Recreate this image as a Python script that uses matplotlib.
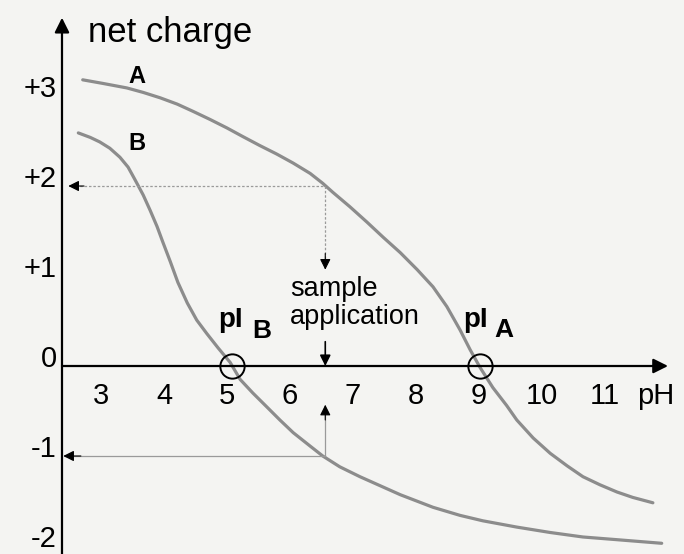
import matplotlib.pyplot as plt

# curve A (net charge vs pH)
ph_a = [2.71, 3.03, 3.41, 3.67, 3.94, 4.21, 4.46, 4.73, 5.00, 5.25,
        5.52, 5.79, 6.05, 6.32, 6.52, 6.68, 6.95, 7.22, 7.48, 7.75,
        8.02, 8.27, 8.49, 8.70, 8.86, 9.02, 9.22, 9.44, 9.60, 9.86,
        10.13, 10.40, 10.65, 10.92, 11.19, 11.44, 11.76]
charge_a = [3.18, 3.14, 3.09, 3.04, 2.98, 2.91, 2.83, 2.74, 2.645, 2.55,
            2.45, 2.355, 2.255, 2.14, 2.03, 1.93, 1.77, 1.60, 1.43, 1.26,
            1.07, 0.88, 0.66, 0.40, 0.18, -0.02, -0.24, -0.44, -0.60, -0.80,
            -0.97, -1.11, -1.23, -1.32, -1.40, -1.46, -1.52]

# curve B
ph_b = [2.64, 2.83, 2.98, 3.14, 3.30, 3.43, 3.54, 3.67, 3.78, 3.89,
        3.98, 4.10, 4.22, 4.37, 4.52, 4.68, 4.86, 5.05, 5.21, 5.41,
        5.64, 5.84, 6.05, 6.32, 6.52, 6.79, 7.11, 7.43, 7.75, 8.27,
        8.70, 9.06, 9.60, 10.13, 10.65, 11.19, 11.90]
charge_b = [2.59, 2.54, 2.49, 2.42, 2.32, 2.21, 2.07, 1.90, 1.73, 1.55,
            1.38, 1.16, 0.93, 0.70, 0.51, 0.36, 0.20, 0.04, -0.15, -0.30,
            -0.46, -0.60, -0.74, -0.89, -1.00, -1.12, -1.23, -1.33, -1.43, -1.57,
            -1.66, -1.72, -1.79, -1.85, -1.90, -1.93, -1.97]

pi_a = 9.02
pi_b = 5.08
sample_ph = 6.56
sample_charge_a = 2
sample_charge_b = -1

x_ticks = [3, 4, 5, 6, 7, 8, 9, 10, 11]
y_ticks = [3, 2, 1, 0, -1, -2]
y_tick_labels = ["+3", "+2", "+1", "0", "-1", "-2"]

plt.rcParams["font.family"] = ["Liberation Sans", "DejaVu Sans"]

bg = "#f4f4f2"
curve_col = "#8c8c8c"
guide_col = "#9a9a9a"

fig = plt.figure(figsize=(6.84, 5.54), dpi=100, facecolor=bg)
ax = fig.add_axes([0, 0, 1, 1])
ax.set_facecolor(bg)
ax.set_xlim(1.397, 12.254)
ax.set_ylim(-2.089, 4.067)
ax.axis("off")

y_axis_x = 2.381

# axes drawn as arrows
ax.annotate("", xy=(y_axis_x, 3.87), xytext=(y_axis_x, -2.2),
            arrowprops=dict(arrowstyle="-|>", lw=1.6, color="black",
                            mutation_scale=22, shrinkA=0, shrinkB=0))
ax.annotate("", xy=(12.0, 0), xytext=(y_axis_x, 0),
            arrowprops=dict(arrowstyle="-|>", lw=1.6, color="black",
                            mutation_scale=22, shrinkA=0, shrinkB=0))

# curves
ax.plot(ph_a, charge_a, color=curve_col, lw=2.3, solid_capstyle="round",
        solid_joinstyle="round")
ax.plot(ph_b, charge_b, color=curve_col, lw=2.3, solid_capstyle="round",
        solid_joinstyle="round")

# guide lines from the sample point to the charge axis
ax.plot([y_axis_x + 0.15, sample_ph], [sample_charge_a, sample_charge_a],
        color=guide_col, lw=0.9, ls=(0, (2, 1.5)))
ax.plot([sample_ph, sample_ph], [sample_charge_a, 1.15],
        color=guide_col, lw=0.9, ls=(0, (2, 1.5)))
ax.plot([y_axis_x + 0.05, sample_ph], [sample_charge_b, sample_charge_b],
        color=guide_col, lw=0.9)
ax.plot([sample_ph, sample_ph], [sample_charge_b, -0.5],
        color=guide_col, lw=0.9)

head = dict(arrowstyle="-|>", color="black", lw=0.8, mutation_scale=16,
            shrinkA=0, shrinkB=0)
ax.annotate("", xy=(y_axis_x + 0.1, sample_charge_a),
            xytext=(y_axis_x + 0.35, sample_charge_a), arrowprops=head)
ax.annotate("", xy=(y_axis_x + 0.02, sample_charge_b),
            xytext=(y_axis_x + 0.3, sample_charge_b), arrowprops=head)
ax.annotate("", xy=(sample_ph, 1.07), xytext=(sample_ph, 1.25), arrowprops=head)
ax.annotate("", xy=(sample_ph, -0.43), xytext=(sample_ph, -0.6), arrowprops=head)
ax.annotate("", xy=(sample_ph, 0), xytext=(sample_ph, 0.27),
            arrowprops=dict(arrowstyle="-|>", color="black", lw=1.2,
                            mutation_scale=16, shrinkA=0, shrinkB=0))

# isoelectric points
ax.plot([pi_b, pi_a], [0, 0], ls="none", marker="o", ms=17.5, mfc="none",
        mec="black", mew=1.4)

# tick labels
for t in x_ticks:
    ax.text(t, -0.33, str(t), ha="center", va="center", fontsize=21)
ax.text(11.51, -0.33, "pH", ha="left", va="center", fontsize=21)
for v, lab in zip(y_ticks, y_tick_labels):
    ax.text(2.30, v + 0.08, lab, ha="right", va="center", fontsize=21)

ax.text(2.79, 3.6, "net charge", ha="left", va="baseline", fontsize=25)

# curve labels
ax.text(3.57, 3.22, "A", ha="center", va="center", fontsize=17, fontweight="bold")
ax.text(3.57, 2.47, "B", ha="center", va="center", fontsize=17, fontweight="bold")

ax.text(4.86, 0.43, "pI", ha="left", va="baseline", fontsize=20, fontweight="bold")
ax.text(5.40, 0.31, "B", ha="left", va="baseline", fontsize=19, fontweight="bold")
ax.text(8.75, 0.43, "pI", ha="left", va="baseline", fontsize=20, fontweight="bold")
ax.text(9.25, 0.32, "A", ha="left", va="baseline", fontsize=19, fontweight="bold")

ax.text(6.0, 0.70, "sample\napplication", ha="left", va="center",
        fontsize=19.5, linespacing=1.07)

fig.savefig("out.png", dpi=100, facecolor=bg)
